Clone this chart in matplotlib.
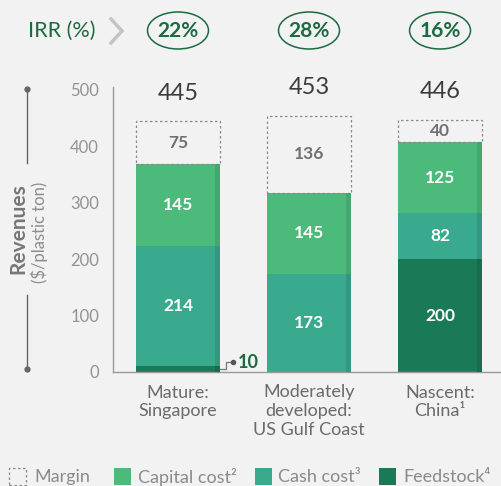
import matplotlib
matplotlib.use("Agg")
import matplotlib.pyplot as plt
from matplotlib.patches import Ellipse, Rectangle
import numpy as np

plt.rcParams['font.family'] = ['Lato', 'DejaVu Sans']

categories = ["Mature:\nSingapore", "Moderately\ndeveloped:\nUS Gulf Coast", "Nascent:\nChina\u00b9"]
feedstock = [10, 0, 200]
cash_cost = [214, 173, 82]
capital_cost = [145, 145, 125]
margin = [75, 136, 40]
totals = ["445", "453", "446"]
irr = ["22%", "28%", "16%"]
yticks = [0, 100, 200, 300, 400, 500]

BG = "#f2f2f2"
C_CAP = "#4cba7a"
C_CASH = "#3aaa8f"
C_FEED = "#1b7a56"
D_CAP = "#43a86d"
D_CASH = "#339880"
D_FEED = "#176c4c"
GREEN_TXT = "#1a6b40"

fig = plt.figure(figsize=(5.02, 4.86), dpi=100, facecolor=BG)
ax = fig.add_axes([113/502, 1-372/486, 389/502, (372-87)/486])
ax.set_facecolor(BG)
ax.set_ylim(0, 505)
ax.set_xlim(-0.496, 2.473)

x = np.arange(len(categories))
w = 0.64
strip = 0.035

bottom = np.zeros(3)
for vals, col, dcol in [(feedstock, C_FEED, D_FEED), (cash_cost, C_CASH, D_CASH), (capital_cost, C_CAP, D_CAP)]:
    vals = np.array(vals, dtype=float)
    ax.bar(x, vals, w, bottom=bottom, color=col, linewidth=0, zorder=2)
    ax.bar(x + w/2 - strip/2, vals, strip, bottom=bottom, color=dcol, linewidth=0, zorder=3)
    bottom = bottom + vals
ax.bar(x, margin, w, bottom=bottom, facecolor="none", edgecolor="#8a8a8a",
       linestyle=(0, (2, 2)), linewidth=0.9, zorder=2)

# segment labels
b = np.zeros(3)
for vals in [feedstock, cash_cost, capital_cost]:
    for i, v in enumerate(vals):
        if v >= 30:
            ax.text(x[i], b[i] + v/2, str(v), ha="center", va="center", color="white",
                    fontsize=12.5, fontweight="bold", zorder=4)
    b = b + np.array(vals)
for i, v in enumerate(margin):
    ax.text(x[i], b[i] + v/2, str(v), ha="center", va="center", color="#707070",
            fontsize=12.5, fontweight="bold", zorder=4)
    ax.text(x[i], b[i] + v + 50, totals[i], ha="center", va="center", color="#3c3c3c",
            fontsize=17, fontweight="normal", clip_on=False)

# small feedstock annotation
xe = x[0] + w/2
ax.plot([xe, xe + 0.045, xe + 0.045, xe + 0.1], [feedstock[0]/2, feedstock[0]/2, 17, 17],
        color="#777777", lw=0.9, clip_on=False, zorder=4)
ax.plot([xe + 0.1], [17], "o", color="#555555", ms=3, clip_on=False, zorder=4)
ax.text(xe + 0.135, 17, str(feedstock[0]), ha="left", va="center", color=GREEN_TXT,
        fontsize=13, fontweight="bold")

# axes styling
for s in ["top", "right"]:
    ax.spines[s].set_visible(False)
ax.spines["left"].set_color("#9a9a9a")
ax.spines["bottom"].set_color("#9a9a9a")
ax.spines["left"].set_linewidth(1)
ax.spines["bottom"].set_linewidth(1)
ax.set_yticks(yticks)
ax.set_yticklabels([str(t) for t in yticks], color="#939393", fontsize=12)
ax.tick_params(axis="y", length=0, pad=10)
ax.set_xticks(x)
ax.set_xticklabels(categories, color="#6a6a6a", fontsize=13, linespacing=1.2)
ax.tick_params(axis="x", length=0, pad=9)

# y-axis label with line
fx = 27.5/502
fig.add_artist(plt.Line2D([fx, fx], [1-89/486, 1-163/486], color="#666666", lw=1))
fig.add_artist(plt.Line2D([fx, fx], [1-295/486, 1-369/486], color="#666666", lw=1))
fig.add_artist(plt.Line2D([fx], [1-89/486], marker="o", color="#666666", ms=3.5))
fig.add_artist(plt.Line2D([fx], [1-369/486], marker="o", color="#666666", ms=3.5))
fig.text(18/502, 1-229/486, "Revenues", rotation=90, ha="center", va="center",
         color="#777777", fontsize=15, fontweight="bold")
fig.text(39/502, 1-232/486, "($/plastic ton)", rotation=90, ha="center", va="center",
         color="#8c8c8c", fontsize=12)

# IRR row
fig.text(28/502, 1-31/486, "IRR (%)", ha="left", va="center", color=GREEN_TXT, fontsize=15.5)
fig.add_artist(plt.Line2D([111/502, 122/502, 111/502], [1-19/486, 1-31/486, 1-43/486],
                          color="#c4c4c4", lw=2.5, solid_joinstyle="miter"))
for i, t in enumerate(irr):
    cx = ax.transData.transform((x[i], 0))[0] / 502
    e = Ellipse((cx, 1-30.5/486), 61/502, 37/486, transform=fig.transFigure,
                facecolor="none", edgecolor=GREEN_TXT, lw=1.1)
    fig.add_artist(e)
    fig.text(cx, 1-31/486, t, ha="center", va="center", color=GREEN_TXT,
             fontsize=15, fontweight="bold")

# legend
ly = 1-476.5/486
sq = 17
items = [(9, None, "Margin", 34), (114, C_CAP, "Capital cost\u00b2", 138),
         (255, C_CASH, "Cash cost\u00b3", 278), (379, C_FEED, "Feedstock\u2074", 403)]
for px, col, lab, tx in items:
    if col is None:
        r = Rectangle((px/502, ly - sq/2/486), sq/502, sq/486, transform=fig.transFigure,
                      facecolor="none", edgecolor="#8a8a8a", linestyle=(0, (2, 2)), lw=0.9)
    else:
        r = Rectangle((px/502, ly - sq/2/486), sq/502, sq/486, transform=fig.transFigure,
                      facecolor=col, edgecolor="none")
    fig.add_artist(r)
    fig.text(tx/502, ly, lab, ha="left", va="center", color="#8a8a8a", fontsize=13)

fig.savefig("out.png", dpi=100, facecolor=BG)
